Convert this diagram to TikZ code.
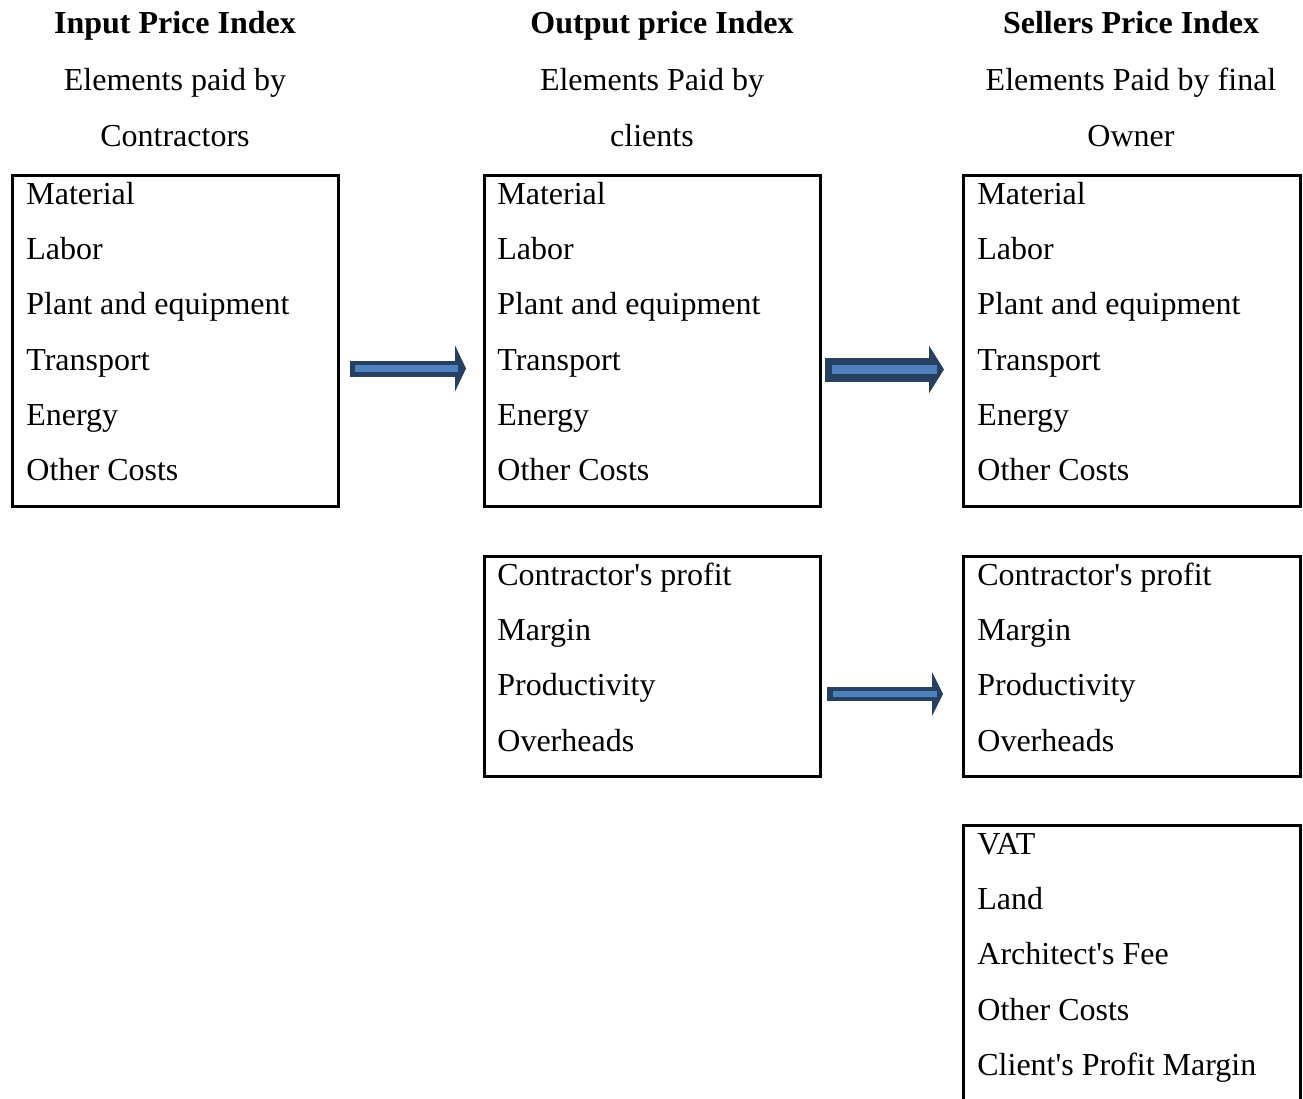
\documentclass[tikz,border=0pt]{standalone}
\usepackage{fontspec}
\setmainfont{Liberation Serif}
\usetikzlibrary{arrows.meta}
\definecolor{arrowedge}{RGB}{37,64,97}
\definecolor{arrowfill}{RGB}{79,129,189}
\tikzset{
  listbox/.style={draw, line width=1.5pt, outer sep=0pt, inner sep=0pt, anchor=north west},
  items/.style={anchor=north west, align=left, inner sep=0pt, font=\fontsize{16}{27.6}\selectfont},
  coltitle/.style={anchor=base, inner sep=0pt, font=\fontsize{16}{28}\selectfont\bfseries},
  colsub/.style={anchor=north, align=center, inner sep=0pt, font=\fontsize{16}{28}\selectfont},
  flow/.style={draw=arrowedge, fill=arrowedge},
  flowcore/.style={draw=arrowfill}
}
\begin{document}
\begin{tikzpicture}[x=0.5pt, y=-0.5pt]
  \useasboundingbox (0,0) rectangle (1303,1099);

  \node[coltitle] (inTitle) at (175,33) {Input Price Index};
  \node[colsub] (inSub) at (175,50.8) {\strut Elements paid by\\Contractors};
  \node[coltitle] (outTitle) at (662,33) {Output price Index};
  \node[colsub] (outSub) at (652,50.8) {\strut Elements Paid by\\clients};
  \node[coltitle] (sellTitle) at (1131,33) {Sellers Price Index};
  \node[colsub] (sellSub) at (1131,50.8) {\strut Elements Paid by final\\Owner};

  \node[listbox, minimum width=163pt, minimum height=165.5pt] (inList) at (12,175) {};
  \node[listbox, minimum width=168pt, minimum height=165.5pt] (outList) at (484,175) {};
  \node[listbox, minimum width=168.5pt, minimum height=165.5pt] (sellList) at (963,175) {};
  \node[listbox, minimum width=168pt, minimum height=110pt] (outExtra) at (484,556) {};
  \node[listbox, minimum width=168.5pt, minimum height=110pt] (sellExtra) at (963,556) {};
  \node[listbox, minimum width=168.5pt, minimum height=150pt] (sellOwner) at (963,825) {};

  \node[items] (inItems) at ([xshift=7pt,yshift=4.8pt]inList.north west)
    {\strut Material\\Labor\\Plant and equipment\\Transport\\Energy\\Other Costs};
  \node[items] (outItems) at ([xshift=6.5pt,yshift=4.8pt]outList.north west)
    {\strut Material\\Labor\\Plant and equipment\\Transport\\Energy\\Other Costs};
  \node[items] (sellItems) at ([xshift=7pt,yshift=4.8pt]sellList.north west)
    {\strut Material\\Labor\\Plant and equipment\\Transport\\Energy\\Other Costs};
  \node[items] (outExtraItems) at ([xshift=6.5pt,yshift=4.8pt]outExtra.north west)
    {\strut Contractor\textquotesingle s profit\\Margin\\Productivity\\Overheads};
  \node[items] (sellExtraItems) at ([xshift=7pt,yshift=4.8pt]sellExtra.north west)
    {\strut Contractor\textquotesingle s profit\\Margin\\Productivity\\Overheads};
  \node[items] (sellOwnerItems) at ([xshift=7pt,yshift=4.8pt]sellOwner.north west)
    {\strut VAT\\Land\\Architect\textquotesingle s Fee\\Other Costs\\Client\textquotesingle s Profit Margin};

  \draw[flow, line width=8pt, shorten <=6pt, shorten >=9pt, -{Triangle[length=5.5pt,width=23pt]}]
    ([yshift=-14pt]inList.east) -- ([yshift=-14pt]outList.west);
  \draw[flowcore, line width=3.5pt, shorten <=8.5pt, shorten >=13pt]
    ([yshift=-14pt]inList.east) -- ([yshift=-14pt]outList.west);
  \draw[flow, line width=12pt, shorten <=2.5pt, shorten >=9.5pt, -{Triangle[length=7.5pt,width=23.5pt]}]
    ([yshift=-14.5pt]outList.east) -- ([yshift=-14.5pt]sellList.west);
  \draw[flowcore, line width=4.5pt, shorten <=6pt, shorten >=13pt]
    ([yshift=-14.5pt]outList.east) -- ([yshift=-14.5pt]sellList.west);
  \draw[flow, line width=7pt, shorten <=3.5pt, shorten >=10pt, -{Triangle[length=5.5pt,width=22pt]}]
    ([yshift=-14pt]outExtra.east) -- ([yshift=-14pt]sellExtra.west);
  \draw[flowcore, line width=3pt, shorten <=6.5pt, shorten >=13pt]
    ([yshift=-14pt]outExtra.east) -- ([yshift=-14pt]sellExtra.west);
\end{tikzpicture}
\end{document}
